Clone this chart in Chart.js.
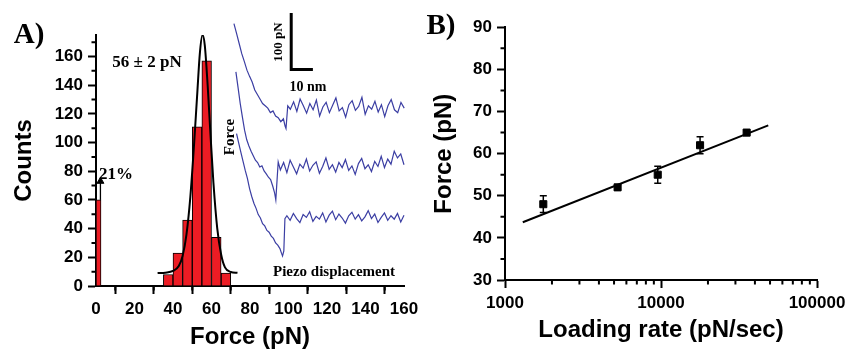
<!DOCTYPE html>
<html>
<head>
<meta charset="utf-8">
<script src="https://cdn.jsdelivr.net/npm/chart.js@4.4.0/dist/chart.umd.min.js"></script>
<style>
  html, body { margin: 0; padding: 0; background: #fff; }
  #wrap { position: relative; width: 851px; height: 356px; overflow: hidden; }
  canvas { position: absolute; top: 0; }
  #chartA { left: 0; }
  #chartB { left: 425px; }
  .lbl { position: absolute; font-family: 'Liberation Serif', 'Times New Roman', serif; font-weight: bold; color: #000; white-space: nowrap; line-height: 1; transform: translate(-50%, -50%); }
  .rot { transform: translate(-50%, -50%) rotate(-90deg); }
</style>
</head>
<body>
<div id="wrap">
  <canvas id="chartA" width="430" height="356" style="width:430px;height:356px"></canvas>
  <canvas id="chartB" width="426" height="356" style="width:426px;height:356px"></canvas>
  <div class="lbl" style="left:29px;top:33px;font-size:29px">A)</div>
  <div class="lbl" style="left:441px;top:24px;font-size:29px">B)</div>
  <div class="lbl" style="left:147px;top:61px;font-size:17px">56 ± 2 pN</div>
  <div class="lbl" style="left:116px;top:173px;font-size:17px">21%</div>
  <div class="lbl rot" style="left:229px;top:137px;font-size:15px">Force</div>
  <div class="lbl" style="left:334px;top:271px;font-size:15px">Piezo displacement</div>
  <div class="lbl" style="left:308px;top:87px;font-size:14px">10 nm</div>
  <div class="lbl rot" style="left:277px;top:42px;font-size:13px">100 pN</div>
</div>
<script>
// ---- Panel A: rupture force histogram ----
const histBinCenters = [37.5, 42.5, 47.5, 52.5, 57.5, 62.5, 67.5];
const histCounts = [8, 23, 46, 111, 157, 34, 9];
const zeroBinX = [1.3];
const zeroBinCount = [60];
const arrowX = [2.3, 2.3];
const arrowY = [60, 73];

// fitted peak
const gaussX = [32, 36, 40, 43, 45, 47, 49, 51, 52.5, 54, 55.3, 56.5, 58, 59.5, 61, 63, 65, 67, 70, 73.5];
const gaussY = [9, 9.3, 10.5, 14, 21, 36, 62, 100, 132, 163, 175, 168, 140, 105, 72, 40, 22, 13, 9.8, 9.2];

const histTicks = [0, 20, 40, 60, 80, 100, 120, 140, 160];
const histMinor = [10, 30, 50, 70, 90, 110, 130, 150];
const countTicks = [0, 20, 40, 60, 80, 100, 120, 140, 160];
const countMinor = [10, 30, 50, 70, 90, 110, 130, 150, 170];

// force curves of the inset, in nm / pN (scale bar 10 nm x 100 pN)
const trace1X = [63.6, 64.8, 66.0, 67.2, 68.4, 69.6, 70.8, 72.0, 73.2, 74.4, 75.6, 76.8, 78.0, 79.2, 80.4, 81.6, 82.8, 84.0, 85.2, 86.4, 87.2, 87.6, 88.4,
  89.6, 91.1, 92.6, 94.1, 95.6, 97.1, 98.6, 100.1, 101.6, 103.1, 104.6, 106.1, 107.6, 109.1, 110.6, 112.1, 113.6, 115.1, 116.6, 118.1, 119.6,
  121.1, 122.6, 124.1, 125.6, 127.1, 128.6, 130.1, 131.6, 133.1, 134.6, 136.1, 137.6, 139.1, 140.6, 142.1, 143.6, 145.1, 146.6, 148.1, 149.6];
const trace1Y = [463, 446, 428, 410, 396, 381, 370, 360, 346, 338, 330, 322, 318, 314, 306, 309, 300, 297, 290, 295, 282, 278, 318,
  312, 325, 308, 330, 318, 305, 322, 311, 328, 300, 316, 324, 306, 319, 332, 309, 315, 298, 320, 327, 310,
  317, 333, 303, 318, 312, 326, 307, 320, 299, 318, 329, 311, 306, 324, 314, 330, 309, 320, 306, 325];

const trace2X = [64.5, 65.5, 66.5, 67.5, 68.5, 69.5, 70.5, 71.5, 72.5, 73.5, 74.5, 75.5, 76.5, 77.5, 78.5, 79.5, 80.5, 81.5, 82.3, 82.9, 84.0,
  85.0, 86.5, 88.0, 89.5, 91.0, 92.5, 94.0, 95.5, 97.0, 98.5, 100.0, 101.5, 103.0, 104.5, 106.0, 107.5, 109.0, 110.5, 112.0, 113.5, 115.0,
  116.5, 118.0, 119.5, 121.0, 122.5, 124.0, 125.5, 127.0, 128.5, 130.0, 131.5, 133.0, 134.5, 136.0, 137.5, 139.0, 140.5, 142.0, 143.5,
  145.0, 146.5, 148.0, 149.5, 150.1];
const trace2Y = [378, 350, 322, 298, 275, 258, 247, 238, 230, 222, 218, 210, 212, 203, 198, 192, 188, 176, 165, 152, 219,
  205, 218, 200, 222, 210, 198, 215, 208, 224, 203, 213, 219, 199, 211, 226, 206, 214, 201, 218, 209, 223,
  204, 212, 197, 216, 225, 207, 214, 202, 220, 211, 229, 209, 224, 215, 238, 226, 233, 214, 222,
  206, 215, 208, 213, 192];

const trace3X = [64.8, 65.8, 66.8, 67.8, 68.8, 69.8, 70.8, 71.8, 72.8, 73.8, 74.8, 75.8, 76.8, 77.8, 78.8, 79.8, 80.8, 81.8, 82.8, 83.8, 84.8,
  85.5, 86.0, 86.6, 87.1,
  88.0, 89.5, 91.0, 92.5, 94.0, 95.5, 97.0, 98.5, 100.0, 101.5, 103.0, 104.5, 106.0, 107.5, 109.0, 110.5, 112.0, 113.5, 115.0, 116.5,
  118.0, 119.5, 121.0, 122.5, 124.0, 125.5, 127.0, 128.5, 130.0, 131.5, 133.0, 134.5, 136.0, 137.5, 139.0, 140.5, 142.0, 143.5, 145.0,
  146.5, 147.0];
const trace3Y = [269, 252, 236, 220, 204, 190, 172, 158, 146, 137, 126, 120, 110, 106, 98, 95, 88, 84, 76, 72, 66,
  58, 53, 62, 119,
  124, 116, 128, 119, 112, 126, 121, 131, 114, 123, 118, 129, 113, 125, 132, 117, 127, 120, 111, 124,
  130, 118, 126, 115, 122, 133, 119, 127, 112, 121, 129, 116, 124, 118, 128, 113, 125, 119, 130,
  116, 121];

const scaleBarX = [90, 90, 100];
const scaleBarY = [482, 382, 382];

// ---- Panel B: force vs loading rate ----
const loadingRate = [1760, 5270, 9530, 17800, 35400];
const ruptureForce = [48, 52, 55, 62, 65];
const forceErr = [2, 0.5, 2, 2, 0.5];
const fitRate = [1300, 48700];
const fitForce = [43.7, 66.7];

const rateTicks = [1000, 10000, 100000];
const rateMinor = [2000, 3000, 4000, 5000, 6000, 7000, 8000, 9000, 20000, 30000, 40000, 50000, 60000, 70000, 80000, 90000];
const forceTicks = [30, 40, 50, 60, 70, 80, 90];
const forceMinor = [35, 45, 55, 65, 75, 85];

const RED = '#ec1c24';
const BLUE = '#3b3ea3';

Chart.defaults.font.family = "'Liberation Sans', Arial, sans-serif";
Chart.defaults.font.weight = 'bold';
Chart.defaults.color = '#000';

const pts = (xs, ys) => xs.map((x, i) => ({ x: x, y: ys[i] }));

// short unlabeled ticks between the labeled ones
const minorTicks = {
  id: 'minorTicks',
  afterDraw(chart, args, opts) {
    const { ctx, scales } = chart;
    const x = scales.x, y = scales.y;
    ctx.save();
    ctx.strokeStyle = '#000';
    ctx.lineWidth = 2;
    ctx.beginPath();
    opts.x.forEach(v => {
      const px = x.getPixelForValue(v);
      ctx.moveTo(px, x.top);
      ctx.lineTo(px, x.top + opts.len);
    });
    opts.y.forEach(v => {
      const py = y.getPixelForValue(v);
      ctx.moveTo(y.right - opts.len, py);
      ctx.lineTo(y.right, py);
    });
    ctx.stroke();
    ctx.restore();
  }
};

// vertical error bars for panel B
const errorBars = {
  id: 'errorBars',
  beforeDatasetsDraw(chart, args, opts) {
    const { ctx, scales } = chart;
    ctx.save();
    ctx.strokeStyle = '#000';
    ctx.lineWidth = 1.5;
    ctx.beginPath();
    opts.x.forEach((v, i) => {
      const px = scales.x.getPixelForValue(v);
      const top = scales.y.getPixelForValue(opts.y[i] + opts.err[i]);
      const bot = scales.y.getPixelForValue(opts.y[i] - opts.err[i]);
      ctx.moveTo(px, top); ctx.lineTo(px, bot);
      ctx.moveTo(px - opts.cap, top); ctx.lineTo(px + opts.cap, top);
      ctx.moveTo(px - opts.cap, bot); ctx.lineTo(px + opts.cap, bot);
    });
    ctx.stroke();
    ctx.restore();
  }
};

function axisStyle(extra) {
  return Object.assign({
    border: { color: '#000', width: 2 },
    grid: { drawOnChartArea: false, drawTicks: true, tickLength: 8, tickWidth: 2, color: '#000' },
    ticks: { padding: 5, font: { size: 17, weight: 'bold' }, color: '#000', maxRotation: 0, autoSkip: false, callback: v => String(v) }
  }, extra);
}

function traceSet(xs, ys) {
  return {
    type: 'line', data: pts(xs, ys), xAxisID: 'xi', yAxisID: 'yi',
    borderColor: BLUE, borderWidth: 1.2, pointRadius: 0, clip: false
  };
}

new Chart(document.getElementById('chartA'), {
  type: 'bar',
  data: {
    datasets: [
      { data: pts(histBinCenters, histCounts), backgroundColor: RED, borderColor: '#000', borderWidth: 1,
        barPercentage: 1, categoryPercentage: 1, grouped: false, order: 2 },
      { data: pts(zeroBinX, zeroBinCount), backgroundColor: RED, borderColor: '#000', borderWidth: 1,
        barThickness: 5, grouped: false, order: 2 },
      { type: 'line', data: pts(gaussX, gaussY), borderColor: '#000', borderWidth: 2, pointRadius: 0,
        cubicInterpolationMode: 'monotone', order: 1 },
      { type: 'line', data: pts(arrowX, arrowY), borderColor: '#000', borderWidth: 1.3,
        pointRadius: [0, 4], pointStyle: 'triangle', pointBackgroundColor: '#000', pointBorderColor: '#000',
        pointBorderWidth: 1, order: 1 },
      traceSet(trace1X, trace1Y),
      traceSet(trace2X, trace2Y),
      traceSet(trace3X, trace3Y),
      { type: 'line', data: pts(scaleBarX, scaleBarY), xAxisID: 'xi', yAxisID: 'yi',
        borderColor: '#000', borderWidth: 3, pointRadius: 0, clip: false, borderJoinStyle: 'miter' }
    ]
  },
  options: {
    responsive: false,
    animation: false,
    layout: { padding: { left: 9.6, right: 26, top: 35, bottom: 4 } },
    plugins: {
      legend: { display: false },
      tooltip: { enabled: false },
      minorTicks: { x: histMinor, y: countMinor, len: 4.5 }
    },
    scales: {
      x: axisStyle({
        type: 'linear', min: 0, max: 160, offset: false,
        afterBuildTicks: s => { s.ticks = histTicks.map(v => ({ value: v })); },
        afterFit: s => { s.height = 66; },
        title: { display: true, text: 'Force (pN)', font: { size: 24, weight: 'bold' }, color: '#000', padding: 0 }
      }),
      y: axisStyle({
        type: 'linear', min: 0, max: 175,
        afterBuildTicks: s => { s.ticks = countTicks.map(v => ({ value: v })); },
        afterFit: s => { s.width = 86.4; },
        title: { display: true, text: 'Counts', font: { size: 24, weight: 'bold' }, color: '#000', padding: 0 }
      }),
      xi: { type: 'linear', display: false, offset: false, min: 0, max: 142 },
      yi: { type: 'linear', display: false, offset: false, min: 0, max: 443 }
    }
  },
  plugins: [minorTicks]
});

new Chart(document.getElementById('chartB'), {
  type: 'scatter',
  data: {
    datasets: [
      { data: pts(loadingRate, ruptureForce), pointStyle: 'rect', pointRadius: 5, pointBorderWidth: 1,
        backgroundColor: '#000', borderColor: '#000', order: 1 },
      { type: 'line', data: pts(fitRate, fitForce), borderColor: '#000', borderWidth: 2, pointRadius: 0, order: 2 }
    ]
  },
  options: {
    responsive: false,
    animation: false,
    layout: { padding: { left: 4.6, right: 34, top: 27.3, bottom: 11.6 } },
    plugins: {
      legend: { display: false },
      tooltip: { enabled: false },
      minorTicks: { x: rateMinor, y: forceMinor, len: 4.5 },
      errorBars: { x: loadingRate, y: ruptureForce, err: forceErr, cap: 3.5 }
    },
    scales: {
      x: axisStyle({
        type: 'logarithmic', min: 1000, max: 100000,
        afterBuildTicks: s => { s.ticks = rateTicks.map(v => ({ value: v })); },
        afterFit: s => { s.height = 64.4; },
        title: { display: true, text: 'Loading rate (pN/sec)', font: { size: 24, weight: 'bold' }, color: '#000', padding: 0 }
      }),
      y: axisStyle({
        type: 'linear', min: 30, max: 90,
        afterBuildTicks: s => { s.ticks = forceTicks.map(v => ({ value: v })); },
        afterFit: s => { s.width = 75.4; },
        title: { display: true, text: 'Force (pN)', font: { size: 24, weight: 'bold' }, color: '#000', padding: 0 }
      })
    }
  },
  plugins: [minorTicks, errorBars]
});
</script>
</body>
</html>
